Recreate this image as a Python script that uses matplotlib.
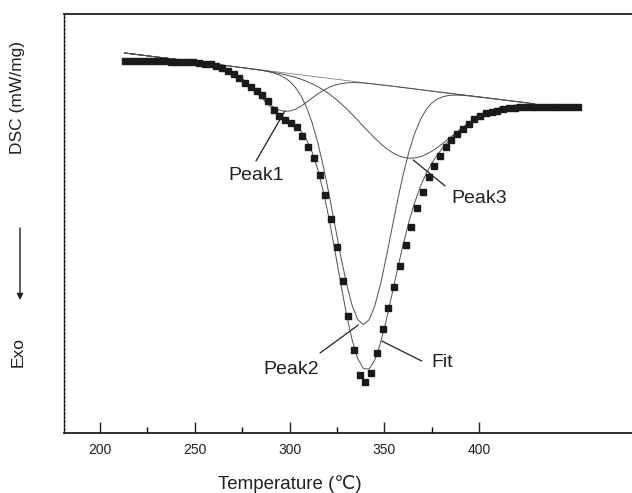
import numpy as np
import matplotlib
matplotlib.use("Agg")
import matplotlib.pyplot as plt
from matplotlib.ticker import MultipleLocator, FixedLocator

plt.rcParams['font.family'] = ['Liberation Sans', 'DejaVu Sans']

# ---- measured DSC signal (black squares), arbitrary DSC units ----
temp_pts = np.linspace(213, 452, 80)
dsc_pts = [3.723, 3.723, 3.723, 3.723, 3.723, 3.723, 3.720, 3.717, 3.710, 3.710,
           3.710, 3.707, 3.707, 3.700, 3.693, 3.687, 3.673, 3.653, 3.620, 3.587,
           3.547, 3.503, 3.463, 3.423, 3.380, 3.323, 3.230, 3.170, 3.130, 3.097,
           3.057, 2.973, 2.863, 2.747, 2.577, 2.380, 2.140, 1.860, 1.520, 1.170,
           0.830, 0.580, 0.510, 0.600, 0.800, 1.040, 1.250, 1.460, 1.670, 1.880,
           2.060, 2.250, 2.410, 2.560, 2.670, 2.770, 2.860, 2.930, 2.990, 3.040,
           3.090, 3.140, 3.170, 3.200, 3.210, 3.220, 3.240, 3.250, 3.250, 3.260,
           3.260, 3.260, 3.260, 3.260, 3.263, 3.263, 3.263, 3.263, 3.263, 3.263]

# ---- baseline ----
base_temp = [213, 429.5]
base_dsc = [3.800, 3.291]

# ---- deconvoluted peaks and fit ----
curve_temp = [213] + list(range(246, 430, 3))
peak1 = [3.800,
         3.722, 3.714, 3.706, 3.697, 3.686, 3.673, 3.656, 3.634, 3.606, 3.570,
         3.527, 3.477, 3.421, 3.364, 3.311, 3.266, 3.233, 3.218, 3.219, 3.237,
         3.268, 3.308, 3.351, 3.392, 3.428, 3.458, 3.479, 3.493, 3.501, 3.504,
         3.503, 3.500, 3.495, 3.489, 3.482, 3.476, 3.469, 3.462, 3.455, 3.448,
         3.441, 3.433, 3.426, 3.419, 3.412, 3.405, 3.398, 3.391, 3.384, 3.377,
         3.370, 3.363, 3.356, 3.349, 3.342, 3.335, 3.328, 3.321, 3.314, 3.307,
         3.300, 3.292]
peak2 = [3.800,
         3.723, 3.715, 3.708, 3.701, 3.694, 3.687, 3.680, 3.673, 3.666, 3.659,
         3.652, 3.644, 3.636, 3.628, 3.617, 3.604, 3.585, 3.558, 3.518, 3.459,
         3.374, 3.256, 3.098, 2.896, 2.652, 2.372, 2.072, 1.771, 1.497, 1.277,
         1.134, 1.084, 1.133, 1.273, 1.488, 1.753, 2.041, 2.326, 2.587, 2.812,
         2.994, 3.132, 3.231, 3.298, 3.340, 3.364, 3.375, 3.379, 3.378, 3.374,
         3.369, 3.362, 3.356, 3.349, 3.342, 3.335, 3.328, 3.321, 3.314, 3.307,
         3.300, 3.292]
peak3 = [3.800,
         3.723, 3.715, 3.708, 3.701, 3.694, 3.687, 3.680, 3.673, 3.666, 3.658,
         3.651, 3.643, 3.636, 3.627, 3.619, 3.609, 3.598, 3.586, 3.573, 3.557,
         3.539, 3.517, 3.492, 3.462, 3.428, 3.390, 3.346, 3.297, 3.244, 3.187,
         3.128, 3.067, 3.007, 2.949, 2.895, 2.847, 2.808, 2.777, 2.757, 2.748,
         2.750, 2.763, 2.786, 2.817, 2.855, 2.898, 2.943, 2.990, 3.036, 3.080,
         3.120, 3.156, 3.188, 3.214, 3.236, 3.252, 3.265, 3.273, 3.279, 3.281,
         3.281, 3.280]
fit = [3.800,
       3.722, 3.714, 3.706, 3.697, 3.686, 3.673, 3.656, 3.634, 3.606, 3.570,
       3.526, 3.474, 3.417, 3.357, 3.299, 3.245, 3.197, 3.157, 3.119, 3.076,
       3.018, 2.932, 2.806, 2.630, 2.402, 2.127, 1.818, 1.497, 1.192, 0.932,
       0.743, 0.643, 0.640, 0.731, 0.900, 1.125, 1.380, 1.641, 1.890, 2.113,
       2.303, 2.462, 2.591, 2.696, 2.783, 2.856, 2.921, 2.978, 3.030, 3.077,
       3.119, 3.155, 3.188, 3.214, 3.236, 3.252, 3.265, 3.273, 3.279, 3.281,
       3.281, 3.280]

x_ticks = [200, 250, 300, 350, 400]
x_minor = [225, 275, 325, 375]

W, H = 632, 493
fig = plt.figure(figsize=(W / 100, H / 100), dpi=100)
ax = fig.add_axes([64 / W, 60 / H, (W - 64) / W, 419 / H])

line_kw = dict(color="#505050", lw=0.7)
ax.plot(base_temp, base_dsc, color="#808080", lw=0.6, zorder=1)
ax.plot(curve_temp, peak1, **line_kw, zorder=2)
ax.plot(curve_temp, peak2, **line_kw, zorder=2)
ax.plot(curve_temp, peak3, **line_kw, zorder=2)
ax.plot(curve_temp, fit, **line_kw, zorder=2)
ax.plot(temp_pts, dsc_pts, ls="none", marker="s", ms=3.8, color="#1a1a1a",
        mec="#1a1a1a", zorder=3)

# ---- labels with leader lines ----
lead = dict(arrowstyle="-", lw=0.9, color="#202020", shrinkA=0, shrinkB=0)
txt = dict(fontsize=14, color="#202020", va="baseline", ha="left")
ax.annotate("", xy=(297.6, 3.22), xytext=(282.3, 2.72), arrowprops=lead)
ax.text(267.5, 2.53, "Peak1", **txt)
ax.annotate("", xy=(336.3, 1.08), xytext=(316.1, 0.80), arrowprops=lead)
ax.text(286.0, 0.59, "Peak2", **txt)
ax.annotate("", xy=(348.7, 0.92), xytext=(369.7, 0.72), arrowprops=lead)
ax.text(375.0, 0.66, "Fit", **txt)
ax.annotate("", xy=(365.3, 2.73), xytext=(382.1, 2.47), arrowprops=lead)
ax.text(385.5, 2.30, "Peak3", **txt)

ax.set_xlim(181, 480.7)
ax.set_ylim(0, 4.19)
ax.xaxis.set_major_locator(FixedLocator(x_ticks))
ax.xaxis.set_minor_locator(FixedLocator(x_minor))
ax.set_yticks([])
ax.yaxis.set_minor_locator(MultipleLocator(0.04))
ax.tick_params(axis="x", which="major", direction="in", length=8, width=1,
               labelsize=10, pad=7, colors="#202020")
ax.tick_params(axis="x", which="minor", direction="in", length=4, width=1)
ax.tick_params(axis="y", which="minor", direction="in", length=1.5, width=0.5,
               colors="#666666")
for side in ["top", "bottom", "left"]:
    ax.spines[side].set_linewidth(1.3)
    ax.spines[side].set_color("#202020")
ax.spines["left"].set_linewidth(1.0)
ax.spines["right"].set_visible(False)

fig.text(290 / W, 1 - 489 / H, "Temperature (\u2103)", fontsize=13.5,
         ha="center", va="baseline", color="#202020")
fig.text(18 / W, 1 - 97 / H, "DSC (mW/mg)", fontsize=12.5, rotation=90,
         ha="center", va="center", color="#202020")
fig.text(18 / W, 1 - 352 / H, "Exo", fontsize=12.5, rotation=90,
         ha="center", va="center", color="#202020")
ax.annotate("", xy=(20, H - 300), xytext=(20, H - 228), xycoords="figure pixels",
            textcoords="figure pixels",
            arrowprops=dict(arrowstyle="-|>", lw=1.0, color="#202020",
                            mutation_scale=9, shrinkA=0, shrinkB=0))

fig.savefig("out.png", dpi=100)
